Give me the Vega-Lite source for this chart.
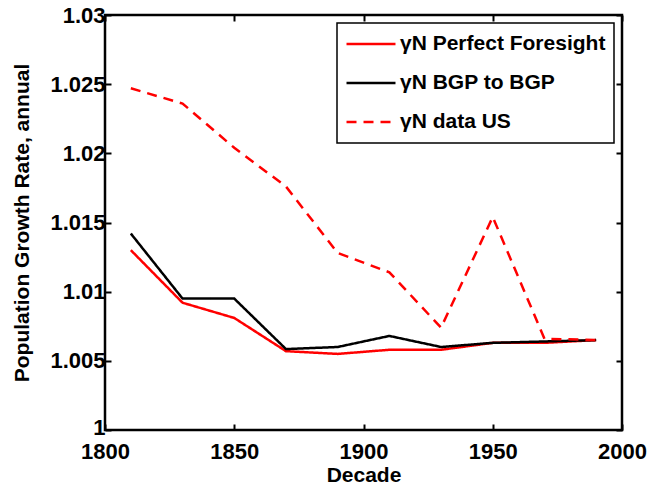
{
  "$schema": "https://vega.github.io/schema/vega-lite/v6.json",
  "width": 517,
  "height": 415,
  "autosize": "none",
  "padding": {"left": 105, "top": 15, "right": 25, "bottom": 55},
  "config": {
    "font": "Liberation Sans",
    "view": {"stroke": "black", "strokeWidth": 2.5},
    "axis": {
      "grid": false,
      "domain": false,
      "tickColor": "black",
      "tickWidth": 2,
      "tickSize": -6,
      "labelFlush": false,
      "labelFont": "Liberation Sans",
      "labelFontSize": 22,
      "labelFontWeight": "bold",
      "labelColor": "black",
      "titleFont": "Liberation Sans",
      "titleFontSize": 21,
      "titleFontWeight": "bold",
      "titleColor": "black"
    },
    "legend": {
      "orient": "top-right",
      "offset": 8,
      "padding": 8,
      "strokeColor": "black",
      "strokeWidth": 1.5,
      "fillColor": "white",
      "symbolType": "stroke",
      "symbolSize": 2400,
      "symbolStrokeWidth": 2.5,
      "clipHeight": 26,
      "labelFont": "Liberation Sans",
      "labelFontSize": 21,
      "labelFontWeight": "bold",
      "labelColor": "black",
      "labelLimit": 0,
      "rowPadding": 13,
      "labelOffset": 3
    }
  },
  "data": {
    "values": [
      {"decade": 1810, "series": "γN Perfect Foresight", "value": 1.0130},
      {"decade": 1830, "series": "γN Perfect Foresight", "value": 1.0092},
      {"decade": 1850, "series": "γN Perfect Foresight", "value": 1.0081},
      {"decade": 1870, "series": "γN Perfect Foresight", "value": 1.0057},
      {"decade": 1890, "series": "γN Perfect Foresight", "value": 1.0055},
      {"decade": 1910, "series": "γN Perfect Foresight", "value": 1.0058},
      {"decade": 1930, "series": "γN Perfect Foresight", "value": 1.0058},
      {"decade": 1950, "series": "γN Perfect Foresight", "value": 1.0063},
      {"decade": 1970, "series": "γN Perfect Foresight", "value": 1.0063},
      {"decade": 1990, "series": "γN Perfect Foresight", "value": 1.0065},
      {"decade": 1810, "series": "γN BGP to BGP", "value": 1.0142},
      {"decade": 1830, "series": "γN BGP to BGP", "value": 1.0095},
      {"decade": 1850, "series": "γN BGP to BGP", "value": 1.0095},
      {"decade": 1870, "series": "γN BGP to BGP", "value": 1.00585},
      {"decade": 1890, "series": "γN BGP to BGP", "value": 1.0060},
      {"decade": 1910, "series": "γN BGP to BGP", "value": 1.0068},
      {"decade": 1930, "series": "γN BGP to BGP", "value": 1.0060},
      {"decade": 1950, "series": "γN BGP to BGP", "value": 1.0063},
      {"decade": 1970, "series": "γN BGP to BGP", "value": 1.0064},
      {"decade": 1990, "series": "γN BGP to BGP", "value": 1.0065},
      {"decade": 1810, "series": "γN data US", "value": 1.0247},
      {"decade": 1830, "series": "γN data US", "value": 1.0236},
      {"decade": 1850, "series": "γN data US", "value": 1.0204},
      {"decade": 1870, "series": "γN data US", "value": 1.0176},
      {"decade": 1890, "series": "γN data US", "value": 1.0128},
      {"decade": 1910, "series": "γN data US", "value": 1.0114},
      {"decade": 1930, "series": "γN data US", "value": 1.0074},
      {"decade": 1950, "series": "γN data US", "value": 1.0154},
      {"decade": 1970, "series": "γN data US", "value": 1.0066},
      {"decade": 1990, "series": "γN data US", "value": 1.0065}
    ]
  },
  "layer": [
    {
      "mark": {"type": "line", "strokeWidth": 2.5},
      "encoding": {
        "x": {
          "field": "decade", "type": "quantitative",
          "scale": {"domain": [1800, 2000], "nice": false, "zero": false},
          "axis": {"values": [1800, 1850, 1900, 1950, 2000], "format": "d", "title": "Decade", "labelPadding": 17, "titlePadding": 2}
        },
        "y": {
          "field": "value", "type": "quantitative",
          "scale": {"domain": [1, 1.03], "nice": false, "zero": false},
          "axis": {"values": [1, 1.005, 1.01, 1.015, 1.02, 1.025, 1.03], "labelExpr": "format(datum.value, '.3~f')", "labelOffset": {"condition": {"test": "datum.value == 1", "value": -3}, "value": 0}, "title": "Population Growth Rate, annual", "labelPadding": 6, "titlePadding": 17}
        },
        "color": {
          "field": "series", "type": "nominal", "title": null,
          "scale": {"domain": ["γN Perfect Foresight", "γN BGP to BGP", "γN data US"], "range": ["#ff0000", "#000000", "#ff0000"]}
        },
        "strokeDash": {
          "field": "series", "type": "nominal", "title": null,
          "scale": {"domain": ["γN Perfect Foresight", "γN BGP to BGP", "γN data US"], "range": [[1, 0], [1, 0], [10, 7]]}
        }
      }
    },
    {
      "mark": {"type": "line", "opacity": 0},
      "encoding": {
        "x": {
          "field": "decade", "type": "quantitative",
          "scale": {"domain": [1800, 2000], "nice": false, "zero": false},
          "axis": {"orient": "top", "values": [1800, 1850, 1900, 1950, 2000], "labels": false, "title": null}
        },
        "y": {
          "field": "value", "type": "quantitative",
          "scale": {"domain": [1, 1.03], "nice": false, "zero": false},
          "axis": {"orient": "right", "values": [1, 1.005, 1.01, 1.015, 1.02, 1.025, 1.03], "labels": false, "title": null}
        },
        "detail": {"field": "series", "type": "nominal"}
      }
    }
  ],
  "resolve": {"axis": {"x": "independent", "y": "independent"}}
}
